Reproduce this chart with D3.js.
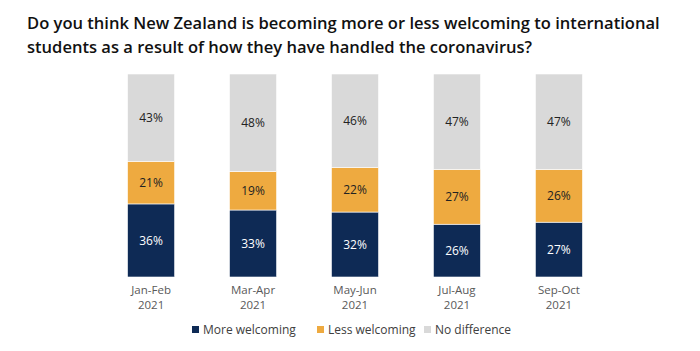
<!DOCTYPE html>
<html>
<head>
  <meta charset="utf-8">
  <style>
    body { margin: 0; background: #fff; }
    text { font-family: "Open Sans", sans-serif; }
  </style>
</head>
<body>
  <div id="viz"></div>
  <script src="https://d3js.org/d3.v7.min.js"></script>
  <script>
    // data
    let periods = ['Jan-Feb 2021', 'Mar-Apr 2021', 'May-Jun 2021', 'Jul-Aug 2021', 'Sep-Oct 2021'];
    let moreWelcoming = [36, 33, 32, 26, 27];
    let lessWelcoming = [21, 19, 22, 27, 26];
    let noDifference = [43, 48, 46, 47, 47];
    let seriesNames = ['More welcoming', 'Less welcoming', 'No difference'];
    let seriesColors = ['#0e2a55', '#eeaa40', '#d9d9d9'];
    let labelColors = ['#ffffff', '#222222', '#222222'];
    let titleLines = [
      'Do you think New Zealand is becoming more or less welcoming to international',
      'students as a result of how they have handled the coronavirus?'
    ];

    let W = 700, H = 351;
    let svg = d3.select('#viz').append('svg')
      .attr('width', W).attr('height', H);

    // title
    let title = svg.append('g');
    titleLines.forEach((t, i) => {
      title.append('text')
        .attr('x', 27)
        .attr('y', 29 + i * 24)
        .style('font-size', '17px')
        .style('font-weight', 600)
        .style('fill', '#111')
        .text(t);
    });
    // fit first line to its width in the picture
    let first = title.select('text').node();
    let scaleF = 633 / first.getComputedTextLength();
    title.selectAll('text').style('font-size', (17 * scaleF) + 'px');

    let rows = periods.map((p, i) => ({
      period: p,
      more: moreWelcoming[i],
      less: lessWelcoming[i],
      none: noDifference[i]
    }));
    let keys = ['more', 'less', 'none'];
    let stacked = d3.stack().keys(keys)(rows);

    let x = d3.scaleBand()
      .domain(periods)
      .range([100, 610])
      .paddingInner(0.538)
      .paddingOuter(0.27);

    let y = d3.scaleLinear()
      .domain([0, 100])
      .range([277, 74]);

    let layers = svg.selectAll('.layer')
      .data(stacked)
      .join('g')
      .attr('class', 'layer')
      .style('fill', (d, i) => seriesColors[i]);

    layers.selectAll('rect')
      .data(d => d)
      .join('rect')
      .attr('x', d => x(d.data.period))
      .attr('width', x.bandwidth())
      .attr('y', d => y(d[1]))
      .attr('height', d => y(d[0]) - y(d[1]))
      .style('stroke', '#fff')
      .style('stroke-width', 0.6);

    layers.each(function (layer, li) {
      d3.select(this).selectAll('.val')
        .data(layer)
        .join('text')
        .attr('class', 'val')
        .attr('x', d => x(d.data.period) + x.bandwidth() / 2)
        .attr('y', d => (y(d[0]) + y(d[1])) / 2)
        .attr('dy', '0.35em')
        .attr('text-anchor', 'middle')
        .style('font-size', '12px')
        .style('fill', labelColors[li])
        .text(d => (d[1] - d[0]) + '%');
    });

    // x axis labels (two lines)
    let xAxis = svg.append('g')
      .attr('transform', 'translate(0, 277)')
      .call(d3.axisBottom(x).tickSize(0).tickPadding(0));
    xAxis.select('.domain').remove();
    xAxis.selectAll('.tick text').each(function (d) {
      let parts = d.split(' ');
      let t = d3.select(this).text(null)
        .attr('y', 0)
        .attr('dy', null)
        .style('font-family', '"Open Sans", sans-serif')
        .style('font-size', '11.5px')
        .style('fill', '#595959');
      parts.forEach((p, i) => {
        t.append('tspan')
          .attr('x', 0)
          .attr('y', 17 + i * 15)
          .text(p);
      });
    });

    // legend
    let legendX = [192, 317, 424];
    let legend = svg.selectAll('.legend')
      .data(seriesNames)
      .join('g')
      .attr('class', 'legend')
      .attr('transform', (d, i) => `translate(${legendX[i]}, 330)`);
    legend.append('rect')
      .attr('x', 0).attr('y', -4)
      .attr('width', 7).attr('height', 7)
      .style('fill', (d, i) => seriesColors[i]);
    legend.append('text')
      .attr('x', 11)
      .attr('dy', '0.35em')
      .style('font-size', '12px')
      .style('fill', '#404040')
      .text(d => d);
  </script>
</body>
</html>
